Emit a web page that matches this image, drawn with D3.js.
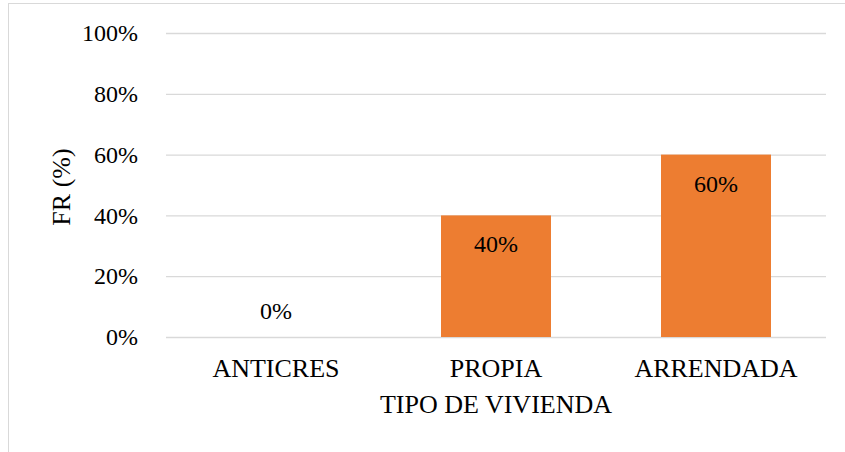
<!DOCTYPE html>
<html><head><meta charset="utf-8">
<script src="https://cdn.jsdelivr.net/npm/d3@7/dist/d3.min.js"></script>
<style>body{margin:0;background:#fff}svg{display:block}text{font-family:"Liberation Serif","Times New Roman",serif;fill:#000}</style>
</head><body><svg id="c" width="845" height="452"></svg>
<script>
const categories = ["ANTICRES", "PROPIA", "ARRENDADA"];
const values = [0, 0.40, 0.60];
const yTicks = [0, 0.2, 0.4, 0.6, 0.8, 1.0];
const xTitle = "TIPO DE VIVIENDA";
const yTitle = "FR (%)";

const svg = d3.select("#c");
svg.append("rect").attr("x",8.5).attr("y",3.5).attr("width",850).attr("height",460)
  .attr("fill","#fff").attr("stroke","#d9d9d9").attr("stroke-width",1);

const L=166, R=826, T=33, B=337;
const x = d3.scaleBand().domain(categories).range([L,R]).paddingInner(0.5).paddingOuter(0.25);
const y = d3.scaleLinear().domain([0,1]).range([B,T]);
const fmt = d3.format(".0%");

const yAxis = svg.append("g").attr("transform",`translate(${L},0)`)
  .call(d3.axisLeft(y).tickValues(yTicks).tickFormat(fmt).tickSize(-(R-L)).tickPadding(28));
yAxis.select(".domain").remove();
yAxis.selectAll(".tick line").attr("stroke","#d9d9d9").attr("stroke-width",1.3);
yAxis.selectAll(".tick text").attr("font-size",24).attr("dy","0.32em")
  .style("font-family","'Liberation Serif',serif");

svg.append("g").selectAll("rect").data(categories).join("rect")
  .attr("x",d=>x(d)).attr("width",x.bandwidth())
  .attr("y",(d,i)=>y(values[i])).attr("height",(d,i)=>B-y(values[i]))
  .attr("fill","#ED7D31");

svg.append("g").selectAll("text").data(categories).join("text")
  .attr("x",d=>x(d)+x.bandwidth()/2)
  .attr("y",(d,i)=>values[i]>0 ? y(values[i])+37 : y(0)-18)
  .attr("text-anchor","middle").attr("font-size",24)
  .text((d,i)=>fmt(values[i]));

const xAxis = svg.append("g").attr("transform",`translate(0,${B})`)
  .call(d3.axisBottom(x).tickSize(0).tickPadding(0));
xAxis.select(".domain").remove();
xAxis.selectAll(".tick text").attr("font-size",26).attr("dy",null).attr("y",40)
  .style("font-family","'Liberation Serif',serif");

svg.append("text").attr("x",(L+R)/2).attr("y",413).attr("text-anchor","middle")
  .attr("font-size",26).text(xTitle);
svg.append("text").attr("transform","translate(70,187) rotate(-90)").attr("text-anchor","middle")
  .attr("font-size",26).text(yTitle);
</script></body></html>
